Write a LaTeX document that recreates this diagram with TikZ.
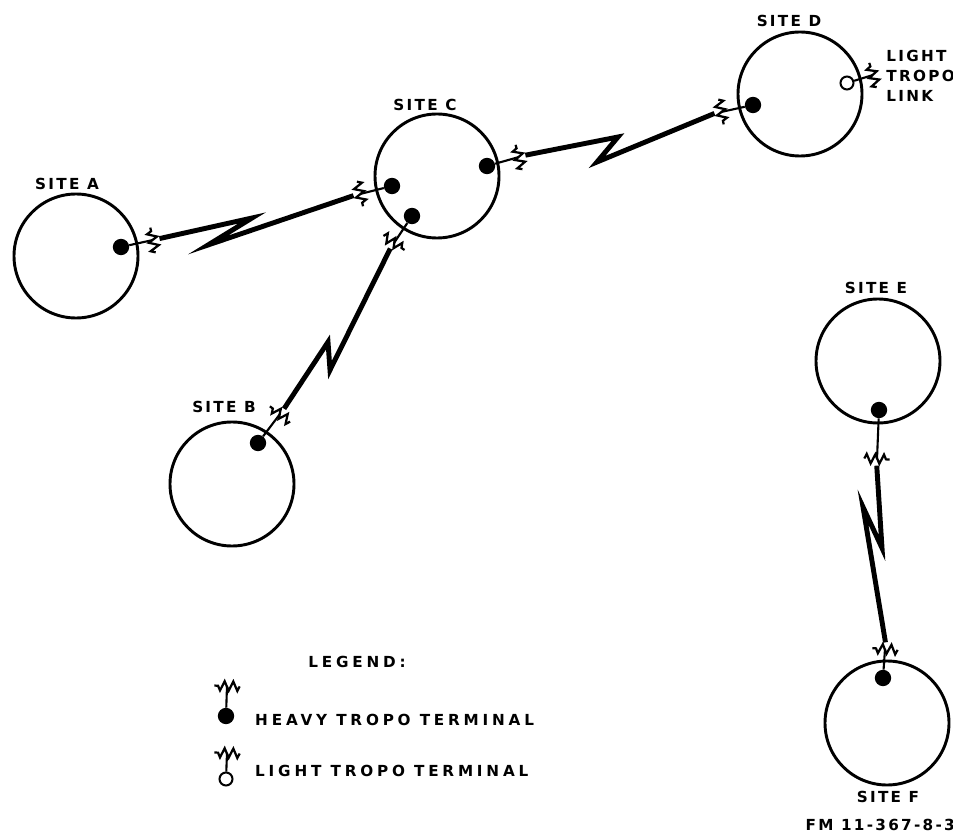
\documentclass[tikz,border=0pt]{standalone}
\usepackage{fontspec}
\newfontfamily\stencil[LetterSpace=15]{DejaVu Sans}
\newfontfamily\stencilwide[LetterSpace=25]{DejaVu Sans}
\usepackage{tikz}
\usetikzlibrary{positioning,calc,decorations.pathmorphing}

\begin{document}
\begin{tikzpicture}[x=0.3mm,y=-0.3mm,
  site/.style={circle,draw,line width=2.5pt,minimum size=37.2mm,inner sep=0pt},
  heavy/.style={circle,fill,minimum size=4.9mm,inner sep=0pt},
  light/.style={circle,draw,line width=1.7pt,minimum size=3.9mm,inner sep=0pt},
  stub/.style={line width=1.8pt},
  aerial/.style={line width=1.9pt,decorate,decoration={zigzag,segment length=2.6mm,amplitude=1.4mm}},
  link/.style={line width=4.2pt},
  txt/.style={font=\stencil\bfseries\fontsize{13}{17}\selectfont,inner sep=0pt},
  keytxt/.style={font=\stencilwide\bfseries\fontsize{13}{17}\selectfont,inner sep=0pt}]
\useasboundingbox (0,0) rectangle (953,836);
% sites
\node[site] (siteA) at (76,256) {};
\node[site] (siteB) at (232,484) {};
\node[site] (siteC) at (437,176) {};
\node[site] (siteD) at (800,94) {};
\node[site] (siteE) at (878,361) {};
\node[site] (siteF) at (887,723) {};
\node[txt] (lblA) at (67,184) {SITE A};
\node[txt] (lblB) at (224,407) {SITE B};
\node[txt] (lblC) at (425,105) {SITE C};
\node[txt] (lblD) at (789,21) {SITE D};
\node[txt] (lblE) at (876,288) {SITE E};
\node[txt] (lblF) at (888,797) {SITE F};
% terminals
\node[heavy] (tA) at (121,247) {};
\node[heavy] (tCa) at (392,186) {};
\node[heavy] (tCb) at (412,216) {};
\node[heavy] (tCd) at (487,166) {};
\node[heavy] (tDc) at (753,105) {};
\node[light] (tDl) at (847,83) {};
\node[heavy] (tB) at (258,443) {};
\node[heavy] (tE) at (879,410) {};
\node[heavy] (tF) at (883,678) {};
\node[heavy] (kH) at (226,716) {};
\node[light] (kL) at (226,779) {};
% aerials
\coordinate (sA) at (153,240);
\coordinate (sCa) at (360,194);
\coordinate (sCb) at (394,243);
\coordinate (sCd) at (519,157);
\coordinate (sDc) at (721,112);
\coordinate (sDl) at (873,75);
\coordinate (sB) at (280,414);
\coordinate (sE) at (877,459);
\coordinate (sF) at (885,649);
\coordinate (sH) at (227,686);
\coordinate (sL) at (227,753);
\foreach \t/\s in {tA/sA,tCa/sCa,tCb/sCb,tCd/sCd,tDc/sDc,tDl/sDl,tB/sB,tE/sE,tF/sF,kH/sH,kL/sL} {
  \draw[stub] (\t) -- (\s);
  \draw[aerial] ($(\s)!3.8mm!90:(\t)$) -- ($(\s)!3.8mm!-90:(\t)$);
  \coordinate (e\s) at ($(\s)!2mm!180:(\t)$);
}
% tropo paths
\coordinate (ac1) at (252,218);
\coordinate (ac2) at (208,245);
\coordinate (cd1) at (618,137);
\coordinate (cd2) at (597,162);
\coordinate (bc1) at (328,342);
\coordinate (bc2) at (330,370);
\coordinate (ef1) at (882,548);
\coordinate (ef2) at (863,507);
\draw[link] (esA) -- (ac1) -- (ac2) -- (esCa);
\draw[link] (esCd) -- (cd1) -- (cd2) -- (esDc);
\draw[link] (esB) -- (bc1) -- (bc2) -- (esCb);
\draw[link] (esE) -- (ef1) -- (ef2) -- (esF);
\node[txt,anchor=east,align=left] (dlink) at (955,76) {LIGHT\\TROPO\\LINK};
% legend
\node[keytxt] (key) at (357,662) {LEGEND:};
\node[keytxt,anchor=west] (keyH) at (255,720) {HEAVY TROPO TERMINAL};
\node[keytxt,anchor=west] (keyL) at (255,771) {LIGHT TROPO TERMINAL};
\node[txt,anchor=east] (fig) at (955,825) {FM 11-367-8-3};
\end{tikzpicture}
\end{document}
